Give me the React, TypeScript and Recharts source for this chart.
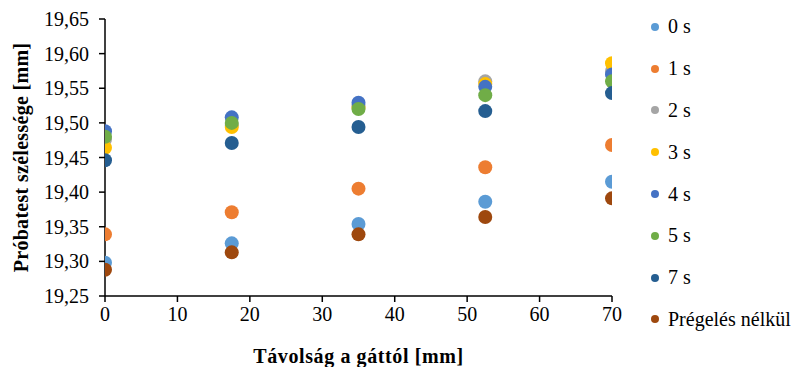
import React from 'react';
import { ScatterChart, Scatter, XAxis, YAxis, Label } from 'recharts';

const distances = [0, 17.5, 35, 52.5, 70];
const s0 = [19.298, 19.326, 19.354, 19.386, 19.415];
const s1 = [19.339, 19.371, 19.405, 19.436, 19.468];
const s2 = [19.476, 19.497, 19.524, 19.560, 19.575];
const s3 = [19.464, 19.494, 19.522, 19.556, 19.586];
const s4 = [19.488, 19.508, 19.529, 19.552, 19.570];
const s5 = [19.480, 19.500, 19.520, 19.540, 19.560];
const s7 = [19.446, 19.471, 19.494, 19.517, 19.543];
const sP = [19.288, 19.313, 19.339, 19.364, 19.391];

const seriesNames = ['0 s', '1 s', '2 s', '3 s', '4 s', '5 s', '7 s', 'Prégelés nélkül'];
const seriesValues = [s0, s1, s2, s3, s4, s5, s7, sP];
const colors = ['#5B9BD5', '#ED7D31', '#A5A5A5', '#FFC000', '#4472C4', '#70AD47', '#255E91', '#9E480E'];

const xTicks = [0, 10, 20, 30, 40, 50, 60, 70];
const yTicks = [19.25, 19.3, 19.35, 19.4, 19.45, 19.5, 19.55, 19.6, 19.65];

const FONT = 'Liberation Serif';
const tickStyle = { fill: '#000', fontFamily: FONT, fontSize: 20, style: { fontFamily: FONT } };

export default function App() {
  return (
    <div style={{ position: 'absolute', left: 0, top: 0, width: 802, height: 367, fontFamily: FONT }}>
      <ScatterChart width={802} height={367} margin={{ top: 19, right: 190, bottom: 21, left: 40 }} style={{ fontFamily: FONT }}>
        <XAxis
          type="number"
          dataKey="x"
          domain={[0, 70]}
          ticks={xTicks}
          allowDataOverflow
          stroke="#000"
          strokeWidth={1.5}
          tickSize={6}
          tickMargin={5}
          tick={tickStyle}
          height={50}
        >
          <Label value="Távolság a gáttól [mm]" position="insideBottom" offset={-17} style={{ fill: '#000', fontFamily: FONT, fontSize: 20, fontWeight: 'bold', letterSpacing: 0.6 }} />
        </XAxis>
        <YAxis
          type="number"
          dataKey="y"
          domain={[19.25, 19.65]}
          ticks={yTicks}
          allowDataOverflow
          stroke="#000"
          strokeWidth={1.5}
          tickSize={6}
          tickMargin={10}
          tickFormatter={(v: number) => v.toFixed(2).replace('.', ',')}
          tick={tickStyle}
          width={65}
        >
          <Label value="Próbatest szélessége [mm]" angle={-90} position="insideLeft" offset={-19} style={{ textAnchor: 'middle', fill: '#000', fontFamily: FONT, fontSize: 20, fontWeight: 'bold', letterSpacing: 0.3 }} />
        </YAxis>
        {seriesValues.map((vals, i) => (
          <Scatter
            key={seriesNames[i]}
            name={seriesNames[i]}
            data={distances.map((d, j) => ({ x: d, y: vals[j] }))}
            fill={colors[i]}
            isAnimationActive={false}
            shape={(p: any) => <circle cx={p.cx} cy={p.cy} r={7} fill={colors[i]} />}
          />
        ))}
      </ScatterChart>
      <div style={{ position: 'absolute', left: 650, top: 6, fontFamily: FONT, fontSize: 20, color: '#000', whiteSpace: 'nowrap' }}>
        {seriesNames.map((n, i) => (
          <div key={n} style={{ display: 'flex', alignItems: 'center', height: 41.8 }}>
            <svg width={10} height={10} style={{ marginRight: 8 }}>
              <circle cx={5} cy={5} r={4} fill={colors[i]} />
            </svg>
            <span>{n}</span>
          </div>
        ))}
      </div>
    </div>
  );
}
